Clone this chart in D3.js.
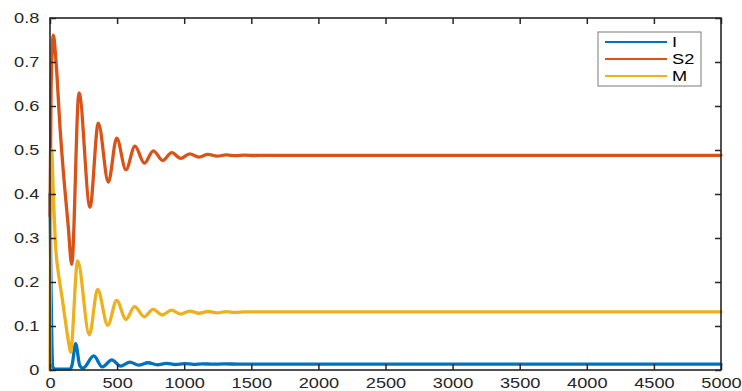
<!DOCTYPE html>
<html>
<head>
<meta charset="utf-8">
<script src="https://cdn.jsdelivr.net/npm/d3@7"></script>
<style>
  html, body { margin: 0; padding: 0; background: #fff; }
  svg { display: block; font-family: "Liberation Sans", Arial, Helvetica, sans-serif; }
</style>
</head>
<body>
<div id="chart"></div>
<script>
// values (time, value) for each series
const tI = [0, 6, 14, 22, 40, 150, 165, 191, 222, 245, 326, 390, 461, 525, 596, 660, 731, 800, 866, 935, 1002, 1070, 1140, 1210, 1300, 1400, 2000, 3000, 4000, 5000];
const valI = [0.40, 0.22, 0.06, 0.006, 0.002, 0.002, 0.012, 0.060, 0.010, 0.004, 0.032, 0.007, 0.023, 0.009, 0.018, 0.011, 0.0165, 0.0118, 0.015, 0.0125, 0.0145, 0.013, 0.014, 0.0132, 0.0137, 0.0135, 0.0135, 0.0135, 0.0135, 0.0135];

const tS2 = [0, 8, 25, 45, 75, 105, 135, 162, 216, 298, 360, 435, 497, 566, 633, 703, 770, 840, 907, 974, 1041, 1110, 1177, 1245, 1313, 1380, 1450, 1520, 1600, 2000, 3000, 4000, 5000];
const valS2 = [0.35, 0.64, 0.761, 0.70, 0.55, 0.43, 0.33, 0.24, 0.630, 0.370, 0.561, 0.427, 0.527, 0.455, 0.509, 0.470, 0.498, 0.476, 0.494, 0.481, 0.491, 0.484, 0.490, 0.486, 0.489, 0.487, 0.4885, 0.4875, 0.488, 0.488, 0.488, 0.488, 0.488];

const tM = [0, 5, 12, 25, 40, 65, 90, 120, 140, 153, 206, 293, 355, 430, 497, 566, 630, 703, 767, 837, 905, 974, 1041, 1110, 1177, 1245, 1313, 1380, 1450, 2000, 3000, 4000, 5000];
const valM = [0.0, 0.36, 0.50, 0.40, 0.29, 0.215, 0.165, 0.10, 0.06, 0.04, 0.248, 0.080, 0.183, 0.102, 0.158, 0.115, 0.144, 0.121, 0.138, 0.125, 0.136, 0.127, 0.134, 0.129, 0.133, 0.130, 0.1325, 0.131, 0.132, 0.132, 0.132, 0.132, 0.132];

const seriesNames = ['I', 'S2', 'M'];
const seriesColors = ['#0072BD', '#D95319', '#EDB120'];
const xTicks = [0, 500, 1000, 1500, 2000, 2500, 3000, 3500, 4000, 4500, 5000];
const yTicks = [0, 0.1, 0.2, 0.3, 0.4, 0.5, 0.6, 0.7, 0.8];

const width = 742, height = 391;
const margin = { top: 18, right: 21, bottom: 21, left: 50 };
const textStretch = 'scale(1.3,1)'; // the picture is stretched sideways

const svg = d3.select('#chart')
  .append('svg')
  .attr('width', width)
  .attr('height', height);

const x = d3.scaleLinear().domain([0, 5000]).range([margin.left, width - margin.right]);
const y = d3.scaleLinear().domain([0, 0.8]).range([height - margin.bottom, margin.top]);

const series = [
  { name: seriesNames[0], t: tI, v: valI },
  { name: seriesNames[1], t: tS2, v: valS2 },
  { name: seriesNames[2], t: tM, v: valM }
];

// Lines
const line = d3.line()
  .x(d => x(d[0]))
  .y(d => y(d[1]))
  .curve(d3.curveMonotoneX);

series.forEach((s, i) => {
  svg.append('path')
    .datum(s.t.map((t, k) => [t, s.v[k]]))
    .attr('fill', 'none')
    .attr('stroke', seriesColors[i])
    .attr('stroke-width', 3.3)
    .attr('stroke-linejoin', 'round')
    .attr('stroke-linecap', 'round')
    .attr('d', line);
});

// Axes (ticks point inward, box around plot)
const axisColor = '#262626';

const xAxis = svg.append('g')
  .attr('transform', `translate(0,${y(0)})`)
  .call(d3.axisBottom(x).tickValues(xTicks).tickSizeInner(-6).tickSizeOuter(0).tickPadding(8).tickFormat(d3.format('d')));

const yAxis = svg.append('g')
  .attr('transform', `translate(${x(0)},0)`)
  .call(d3.axisLeft(y).tickValues(yTicks).tickSizeInner(-6).tickSizeOuter(0).tickPadding(8.2).tickFormat(d => d === 0 ? '0' : d3.format('.1f')(d)));

const xTop = svg.append('g')
  .attr('transform', `translate(0,${y(0.8)})`)
  .call(d3.axisTop(x).tickValues(xTicks).tickSizeInner(-6).tickSizeOuter(0).tickFormat(''));

const yRight = svg.append('g')
  .attr('transform', `translate(${x(5000)},0)`)
  .call(d3.axisRight(y).tickValues(yTicks).tickSizeInner(-6).tickSizeOuter(0).tickFormat(''));

[xAxis, yAxis, xTop, yRight].forEach(g => {
  g.select('.domain').remove();
  g.selectAll('line').attr('stroke', axisColor).attr('stroke-width', 1.5);
  g.selectAll('text')
    .attr('fill', axisColor)
    .style('font-size', '14px')
    .attr('transform', textStretch);
});

svg.append('rect')
  .attr('x', x(0))
  .attr('y', y(0.8))
  .attr('width', x(5000) - x(0))
  .attr('height', y(0) - y(0.8))
  .attr('fill', 'none')
  .attr('stroke', axisColor)
  .attr('stroke-width', 1.6);

// Legend
const legend = svg.append('g').attr('transform', 'translate(598,32)');
legend.append('rect')
  .attr('width', 103)
  .attr('height', 54)
  .attr('fill', '#fff')
  .attr('stroke', '#7a7a7a')
  .attr('stroke-width', 1);

seriesNames.forEach((name, i) => {
  const row = legend.append('g').attr('transform', `translate(0,${10 + i * 17})`);
  row.append('line')
    .attr('x1', 7).attr('x2', 69)
    .attr('y1', 0).attr('y2', 0)
    .attr('stroke', seriesColors[i])
    .attr('stroke-width', 2.2);
  row.append('text')
    .attr('transform', `translate(74,5) ${textStretch}`)
    .attr('fill', '#000')
    .style('font-size', '14px')
    .text(name);
});
</script>
</body>
</html>
